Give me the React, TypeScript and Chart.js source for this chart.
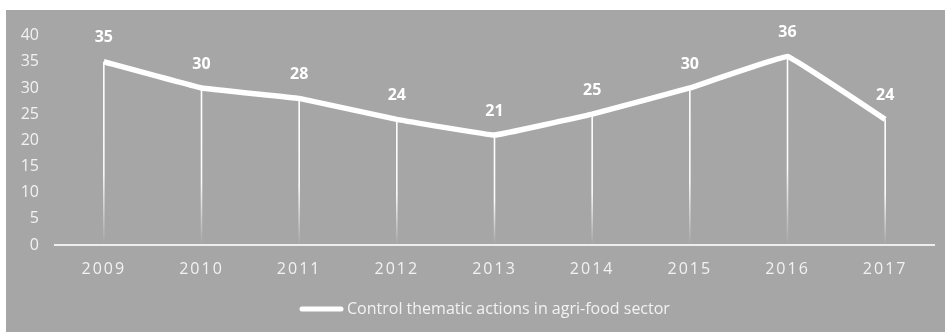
import React, { useEffect, useRef } from "react";
import { Chart, registerables } from "chart.js";

Chart.register(...registerables);

const categories = ["2009", "2010", "2011", "2012", "2013", "2014", "2015", "2016", "2017"];
const values = [35, 30, 28, 24, 21, 25, 30, 36, 24];
const seriesLabel = "Control thematic actions in agri-food sector";
const yMin = 0;
const yMax = 40;
const yStep = 5;

const FONT = "'Open Sans', 'DejaVu Sans', sans-serif";
const BG = "#a6a6a6";
const TXT = "#f2f2f2";

const dropLines = {
  id: "dropLines",
  beforeDatasetsDraw(chart: any) {
    const ctx = chart.ctx;
    const meta = chart.getDatasetMeta(0);
    const bottom = chart.chartArea.bottom;
    ctx.save();
    meta.data.forEach((pt: any) => {
      const g = ctx.createLinearGradient(0, pt.y, 0, bottom);
      g.addColorStop(0, "rgba(255,255,255,1)");
      g.addColorStop(0.6, "rgba(255,255,255,0.95)");
      g.addColorStop(1, "rgba(255,255,255,0)");
      ctx.strokeStyle = g;
      ctx.lineWidth = 1.6;
      ctx.beginPath();
      ctx.moveTo(pt.x, pt.y);
      ctx.lineTo(pt.x, bottom - 2);
      ctx.stroke();
    });
    ctx.restore();
  },
};

const dataLabels = {
  id: "dataLabels",
  afterDatasetsDraw(chart: any) {
    const ctx = chart.ctx;
    const meta = chart.getDatasetMeta(0);
    const data = chart.data.datasets[0].data;
    ctx.save();
    ctx.font = `bold 16px ${FONT}`;
    ctx.fillStyle = "#ffffff";
    ctx.textAlign = "center";
    ctx.textBaseline = "middle";
    meta.data.forEach((pt: any, i: number) => {
      ctx.fillText(String(data[i]), pt.x, pt.y - 24);
    });
    ctx.restore();
  },
};

const customLegend = {
  id: "customLegend",
  afterDraw(chart: any) {
    const ctx = chart.ctx;
    const label = chart.data.datasets[0].label;
    const y = 299;
    const x0 = 294;
    ctx.save();
    ctx.strokeStyle = "#ffffff";
    ctx.lineWidth = 5;
    ctx.lineCap = "round";
    ctx.beginPath();
    ctx.moveTo(x0 + 2, y);
    ctx.lineTo(x0 + 41, y);
    ctx.stroke();
    ctx.font = `16px ${FONT}`;
    ctx.fillStyle = TXT;
    ctx.textAlign = "left";
    ctx.textBaseline = "middle";
    ctx.fillText(label, x0 + 47, y);
    ctx.restore();
  },
};

const xSpacing = {
  id: "xSpacing",
  afterLayout(chart: any) {
    const sc = chart.scales.x;
    if (sc && !sc.__wrapped) {
      const orig = sc.drawLabels.bind(sc);
      sc.drawLabels = (area: any) => {
        const ctx = chart.ctx;
        const prev = ctx.letterSpacing;
        ctx.letterSpacing = "2px";
        orig(area);
        ctx.letterSpacing = prev || "0px";
      };
      sc.__wrapped = true;
    }
  },
};

export default function App() {
  const ref = useRef<HTMLCanvasElement | null>(null);
  useEffect(() => {
    if (!ref.current) return;
    const chart = new Chart(ref.current, {
      type: "line",
      data: {
        labels: categories,
        datasets: [
          {
            label: seriesLabel,
            data: values,
            borderColor: "#ffffff",
            borderWidth: 5.5,
            pointRadius: 0,
            pointHoverRadius: 0,
            tension: 0.05,
            borderJoinStyle: "round",
            fill: false,
          },
        ],
      },
      options: {
        animation: false,
        responsive: false,
        events: [],
        layout: { padding: { top: 23, right: 11, left: 0, bottom: 0 } },
        plugins: {
          legend: { display: false },
          tooltip: { enabled: false },
        },
        scales: {
          x: {
            offset: true,
            grid: { display: false, drawTicks: false, offset: true },
            border: { display: true, color: "#eeeeee", width: 2 },
            ticks: {
              color: TXT,
              font: { family: FONT, size: 16 },
              padding: 15,
              maxRotation: 0,
            },
            afterFit(scale: any) {
              scale.height = 87;
            },
          },
          y: {
            min: yMin,
            max: yMax,
            grid: { display: false, drawTicks: false },
            border: { display: false },
            ticks: {
              stepSize: yStep,
              color: TXT,
              font: { family: FONT, size: 16 },
              padding: 16,
            },
            afterFit(scale: any) {
              scale.width = 49;
            },
          },
        },
      },
      plugins: [dropLines, dataLabels, customLegend, xSpacing],
    });
    return () => chart.destroy();
  }, []);

  return (
    <div
      style={{
        position: "absolute",
        left: 6,
        top: 10,
        width: 939,
        height: 322,
        background: BG,
      }}
    >
      <canvas ref={ref} width={939} height={322} style={{ display: "block" }} />
    </div>
  );
}
